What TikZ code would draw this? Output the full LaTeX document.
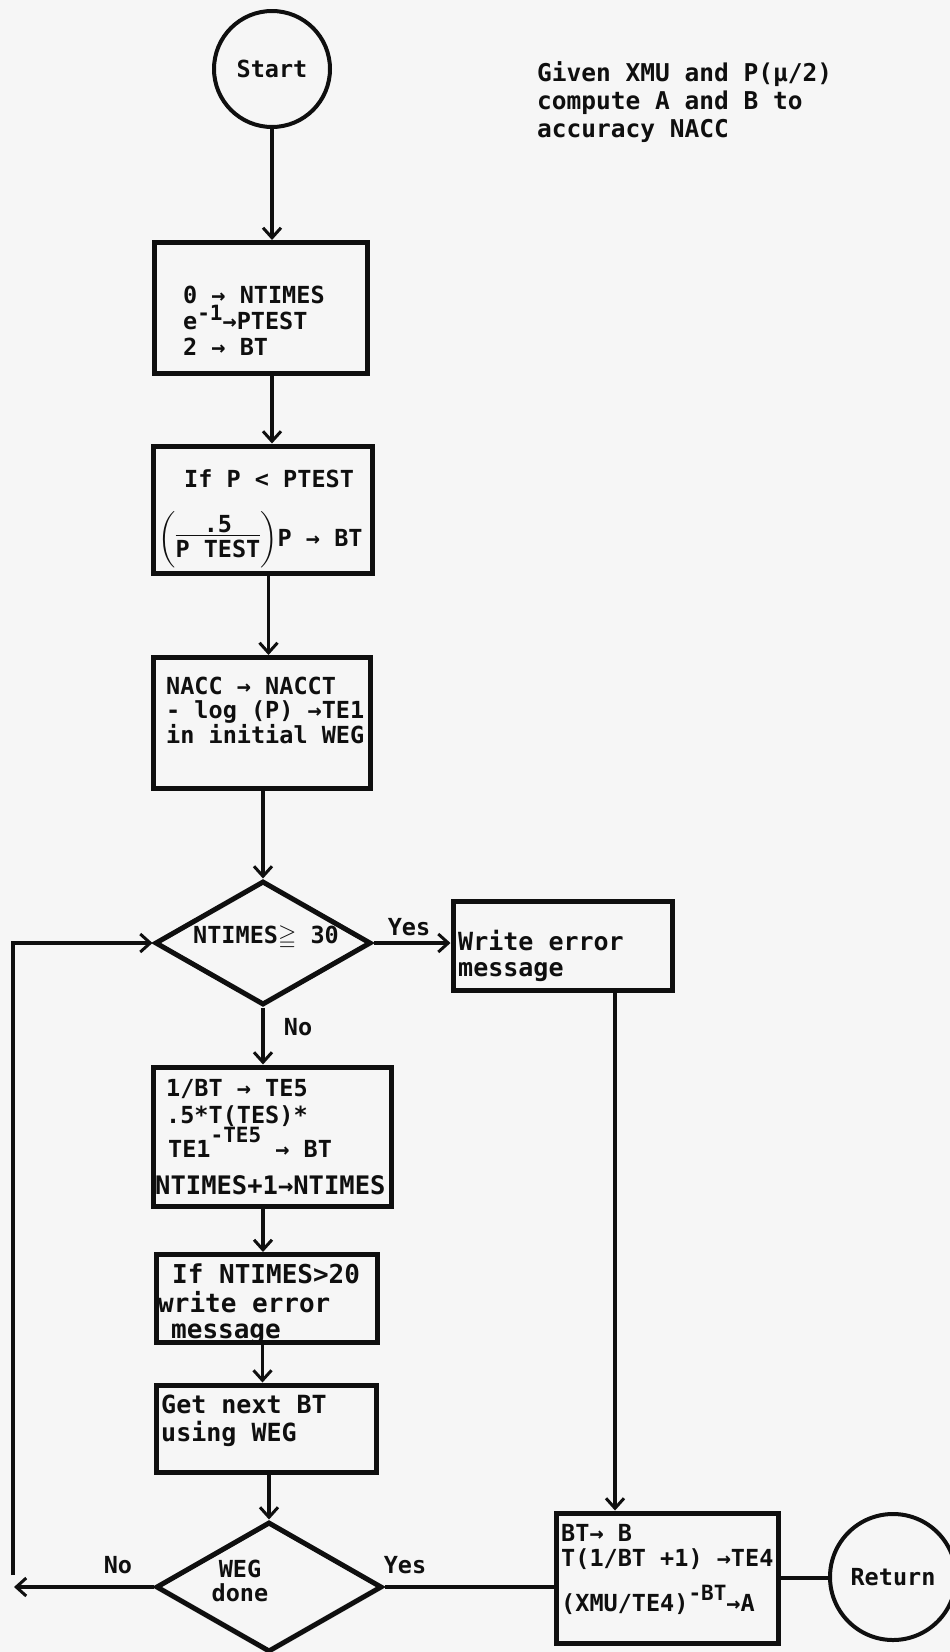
\documentclass[tikz,border=0pt]{standalone}
\usepackage{amssymb}
\usepackage{fontspec}
\setmainfont{DejaVu Sans Mono}
\usetikzlibrary{arrows.meta,shapes.geometric}
\definecolor{bgc}{RGB}{246,246,246}
\definecolor{ink}{RGB}{15,15,15}
\newcommand{\supsz}{\fontsize{21}{21}\selectfont}
\newcommand{\fsz}[1]{\fontsize{#1}{#1}\selectfont}
\begin{document}
\begin{tikzpicture}[x=1pt,y=-1pt,
  font=\bfseries\fontsize{23.5}{24}\selectfont, color=ink,
  boxnode/.style={draw, rectangle, line width=5pt, inner sep=0pt},
  decnode/.style={draw, diamond, line width=5pt, inner sep=0pt},
  termnode/.style={draw, circle, line width=4pt, inner sep=0pt},
  txt/.style={anchor=base west, inner sep=0pt},
  lbl/.style={inner sep=0pt},
  arr/.style={line width=3.5pt, -{Straight Barb[length=10pt,width=18pt,line width=3pt]}},
  conn/.style={line width=3.5pt}]
\useasboundingbox (0,0) rectangle (950,1652);
\fill[bgc] (0,0) rectangle (950,1652);

% terminals
\node[termnode, minimum size=116] (st) at (272,69) {Start};
\node[termnode, minimum size=126] (rt) at (893,1577) {Return};

% comment text
\node[txt, font=\bfseries\fsz{24.5}] (g1) at (537,81) {Given XMU and P(μ/2)};
\node[txt, font=\bfseries\fsz{24.5}] (g2) at (537,109) {compute A and B to};
\node[txt, font=\bfseries\fsz{24.5}] (g3) at (537,137) {accuracy NACC};

% boxes
\node[boxnode, minimum width=213, minimum height=131] (b1) at (261,308) {};
\node[boxnode, minimum width=219, minimum height=127] (b2) at (262.5,509.5) {};
\node[boxnode, minimum width=217, minimum height=131] (b3) at (261.5,723) {};
\node[boxnode, minimum width=219, minimum height=89] (err) at (562.5,945.5) {};
\node[boxnode, minimum width=238, minimum height=139] (b4) at (272,1136.5) {};
\node[boxnode, minimum width=221, minimum height=88] (b5) at (266.5,1298.5) {};
\node[boxnode, minimum width=220, minimum height=87] (b6) at (266,1428.5) {};
\node[boxnode, minimum width=222, minimum height=130] (fin) at (667,1578) {};

% decisions
\node[decnode, minimum width=216, minimum height=124] (d1) at (263,943) {};
\node[decnode, minimum width=226, minimum height=130] (d2) at (269,1587) {};

% box texts
\node[txt] (b1a) at (183,303) {0 → NTIMES};
\node[txt] (b1b) at (183,329) {e\raisebox{9pt}{\supsz-1}→PTEST};
\node[txt] (b1c) at (183,355) {2 → BT};

\node[txt] (b2a) at (184,487) {If P < PTEST};
\node[anchor=west, inner sep=0pt] (b2b) at (158,540)
  {$\left(\vcenter{\hbox{\begin{tabular}{@{}c@{}}.5\\[-5pt]\hline\rule{0pt}{22pt}P TEST\end{tabular}}}\right)$P → BT};

\node[txt] (b3a) at (166,694) {NACC → NACCT};
\node[txt] (b3b) at (166,718) {- log (P) →TE1};
\node[txt] (b3c) at (166,743) {in initial WEG};

\node[lbl] (d1t) at (266,938) {NTIMES$\geqq$ 30};
\node[txt, font=\bfseries\fsz{25}] (e1) at (458,950) {Write error};
\node[txt, font=\bfseries\fsz{25}] (e2) at (458,976) {message};

\node[txt] (b4a) at (166,1096) {1/BT → TE5};
\node[txt] (b4b) at (166,1123) {.5*T(TES)*};
\node[txt] (b4c) at (168,1157) {TE1\raisebox{15pt}{\supsz-TE5} → BT};
\node[txt, font=\bfseries\fsz{25.5}] (b4d) at (155,1194) {NTIMES+1→NTIMES};

\node[txt, font=\bfseries\fsz{26}] (b5a) at (172,1283) {If NTIMES>20};
\node[txt, font=\bfseries\fsz{26}] (b5b) at (158,1312) {write error};
\node[txt, font=\bfseries\fsz{26}] (b5c) at (171,1338) {message};

\node[txt, font=\bfseries\fsz{25}] (b6a) at (161,1413) {Get next BT};
\node[txt, font=\bfseries\fsz{25}] (b6b) at (161,1441) {using WEG};

\node[lbl, align=center] (d2t) at (240,1581) {WEG\\done};

\node[txt] (f1) at (561,1541) {BT→ B};
\node[txt] (f2) at (561,1566) {T(1/BT +1) →TE4};
\node[txt] (f3) at (561,1611) {(XMU/TE4)\raisebox{11pt}{\supsz-BT}→A};

% labels
\node[lbl] (y1) at (409,927) {Yes};
\node[lbl] (n1) at (298,1027) {No};
\node[lbl] (n2) at (118,1565) {No};
\node[lbl] (y2) at (405,1565) {Yes};

% connectors
\draw[arr] (st.south) -- (st.south |- b1.north);
\draw[arr] ([xshift=11pt]b1.south) -- ([xshift=11pt]b1.south |- b2.north);
\draw[arr] ([xshift=6pt]b2.south) -- ([xshift=6pt]b2.south |- b3.north);
\draw[arr] (b3.south -| d1.north) -- (d1.north);
\draw[arr] (d1.south) -- (d1.south |- b4.north);
\draw[arr] (b4.south -| d1.south) -- (b5.north -| d1.south);
\draw[arr] ([xshift=-4pt]b5.south) -- ([xshift=-4pt]b5.south |- b6.north);
\draw[arr] (b6.south -| d2.north) -- (d2.north);
\draw[arr] (d1.east) -- (d1.east -| err.west);
\draw[arr] ([xshift=52.5pt]err.south) -- ([xshift=52.5pt]err.south |- fin.north);
\draw[conn] (d2.east) -- (d2.east -| fin.west);
\draw[conn] (fin.east) -- (fin.east -| rt.west);
\coordinate (lc) at (14,1587);
\coordinate (lc2) at (13,1575);
\draw[arr] (d2.west) -- (lc);
\draw[arr] (lc2) -- (lc2 |- d1.west) -- (d1.west);
\end{tikzpicture}
\end{document}
